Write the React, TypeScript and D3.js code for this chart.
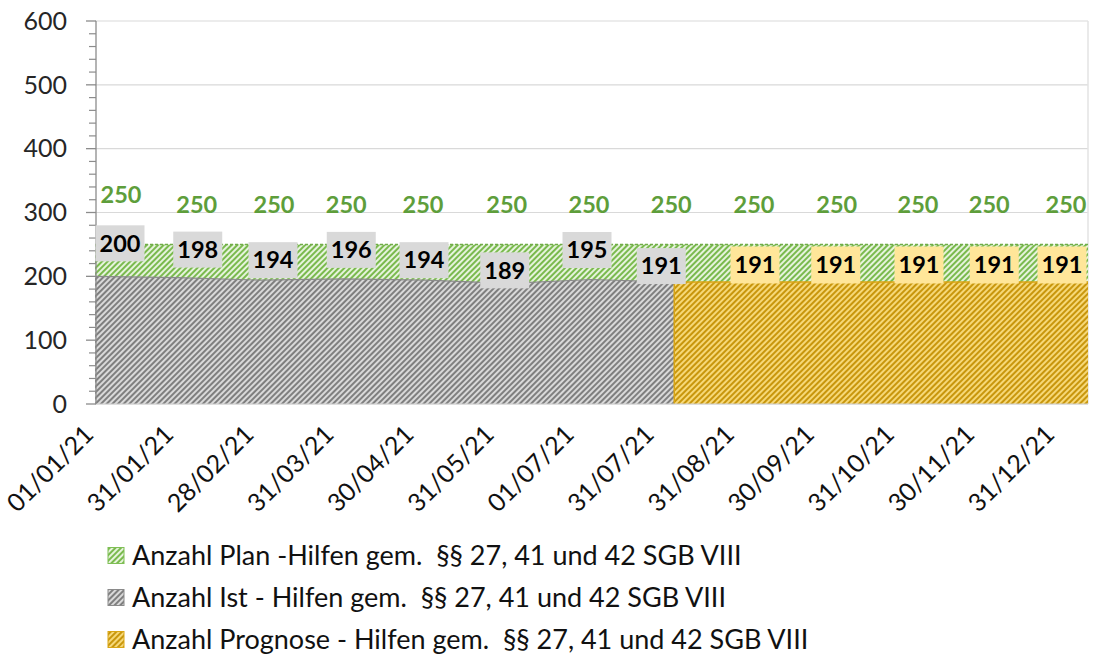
import React from "react";
import * as d3 from "d3";

// ---------- data ----------
const dates = ["01/01/21", "31/01/21", "28/02/21", "31/03/21", "30/04/21", "31/05/21", "01/07/21", "31/07/21", "31/08/21", "30/09/21", "31/10/21", "30/11/21", "31/12/21"];
const planValues = [250, 250, 250, 250, 250, 250, 250, 250, 250, 250, 250, 250, 250];
const istValues: (number | null)[] = [200, 198, 194, 196, 194, 189, 195, 191, null, null, null, null, null];
const prognoseValues: (number | null)[] = [null, null, null, null, null, null, null, 191, 191, 191, 191, 191, 191];
const yTicks = [0, 100, 200, 300, 400, 500, 600];
const legendLabels = [
  "Anzahl Plan -Hilfen gem.  §§ 27, 41 und 42 SGB VIII",
  "Anzahl Ist - Hilfen gem.  §§ 27, 41 und 42 SGB VIII",
  "Anzahl Prognose - Hilfen gem.  §§ 27, 41 und 42 SGB VIII",
];

// ---------- layout (label nudges, px) ----------
const planLabelDx = [26, 19, 13.5, 3, -3, -2, -2.5, -3, -3, -3, -4.5, -16, -22];
const planLabelDy = [-50, -40, -40, -40, -40, -40, -40, -40, -40, -40, -40, -40, -40];
const istLabelDx = [25, 20, 12.5, 8, -2, -4, -4.5, -13];
const istLabelDy = [-33, -28, -20, -29, -20, -13, -29.5, -16];
const progLabelDx = [0, 0, 0, 0, 0, 0, 0, 0, -2, -4, -3.5, -11, -26];
const progLabelDy = -17.6;

const W = 1097;
const H = 654;
const left = 95;
const right = 1088;
const top = 21;
const bottom = 404;
const FONT = "Lato, 'Open Sans', sans-serif";

export default function App() {
  const x = d3.scalePoint<string>().domain(dates).range([left, right]);
  const labelX = d3.scalePoint<string>().domain(dates).range([97, 1058]);
  const y = d3.scaleLinear().domain([0, 600]).range([bottom, top]);

  const idx = dates.map((_, i) => i);
  const planArea = d3
    .area<number>()
    .x((i) => x(dates[i])!)
    .y0(y(0))
    .y1((i) => y(planValues[i]));
  const planLine = d3
    .line<number>()
    .x((i) => x(dates[i])!)
    .y((i) => y(planValues[i]));
  const istIdx = idx.filter((i) => istValues[i] != null);
  const istArea = d3
    .area<number>()
    .x((i) => x(dates[i])!)
    .y0(y(0))
    .y1((i) => y(istValues[i] as number));
  const istLine = d3
    .line<number>()
    .x((i) => x(dates[i])!)
    .y((i) => y(istValues[i] as number));
  const progIdx = idx.filter((i) => prognoseValues[i] != null);
  const progArea = d3
    .area<number>()
    .x((i) => x(dates[i])!)
    .y0(y(0))
    .y1((i) => y(prognoseValues[i] as number));

  const minorTicks = d3.range(0, 601, 20).filter((v) => v % 100 !== 0);

  const progOutline =
    `M${x(dates[progIdx[0]])},${y(0)}` +
    progIdx.map((i) => `L${x(dates[i])},${y(prognoseValues[i] as number)}`).join("");

  const boxW = 49;
  const boxH = 36;

  return (
    <svg
      width={W}
      height={H}
      style={{ position: "absolute", left: 0, top: 0, background: "#fff" }}
      fontFamily={FONT}
    >
      <defs>
        <pattern id="pGreen" width="4" height="4" patternUnits="userSpaceOnUse" patternTransform="rotate(45)">
          <rect width="4" height="4" fill="#e6f3dc" />
          <rect width="2" height="4" fill="#7aba4e" />
        </pattern>
        <pattern id="pGray" width="4" height="4" patternUnits="userSpaceOnUse" patternTransform="rotate(45)">
          <rect width="4" height="4" fill="#d9d9d9" />
          <rect width="2" height="4" fill="#7f7f7f" />
        </pattern>
        <pattern id="pGold" width="4" height="4" patternUnits="userSpaceOnUse" patternTransform="rotate(45)">
          <rect width="4" height="4" fill="#f6d878" />
          <rect width="2" height="4" fill="#c8960c" />
        </pattern>
      </defs>

      {/* gridlines */}
      {yTicks.map((t) => (
        <line key={"g" + t} x1={left} x2={right} y1={y(t)} y2={y(t)} stroke="#d9d9d9" strokeWidth={1.2} />
      ))}
      <line x1={right} x2={right} y1={top} y2={bottom} stroke="#e3e3e3" strokeWidth={1.5} />

      {/* areas */}
      <path d={planArea(idx)!} fill="url(#pGreen)" />
      <path d={planLine(idx)!} fill="none" stroke="#70ad47" strokeWidth={1.5} strokeDasharray="3 2" />
      <path d={istArea(istIdx)!} fill="url(#pGray)" />
      <path d={istLine(istIdx)!} fill="none" stroke="#8a8a8a" strokeWidth={1.2} />
      <path d={progArea(progIdx)!} fill="url(#pGold)" />
      <path d={progOutline} fill="none" stroke="#d9a514" strokeWidth={1.5} />

      {/* axes */}
      <line x1={left} x2={right} y1={bottom} y2={bottom} stroke="#d0d0d0" strokeWidth={1.2} />
      <line x1={left + 1} x2={left + 1} y1={top} y2={bottom} stroke="#8c8c8c" strokeWidth={1.3} />
      {yTicks.map((t) => (
        <line key={"mt" + t} x1={86} x2={left + 1} y1={y(t)} y2={y(t)} stroke="#8c8c8c" strokeWidth={1.3} />
      ))}
      {minorTicks.map((t) => (
        <line key={"nt" + t} x1={89} x2={left + 1} y1={y(t)} y2={y(t)} stroke="#8c8c8c" strokeWidth={1.2} />
      ))}
      {yTicks.map((t) => (
        <text key={"yl" + t} x={67} y={y(t)} dy="0.35em" textAnchor="end" fontSize={25} fill="#262626">
          {t}
        </text>
      ))}
      {dates.map((d) => (
        <text
          key={"xl" + d}
          transform={`translate(${labelX(d)! - 2},${436}) rotate(-45)`}
          textAnchor="end"
          fontSize={25}
          fill="#111"
        >
          {d}
        </text>
      ))}

      {/* plan labels */}
      {idx.map((i) => (
        <text
          key={"pl" + i}
          x={x(dates[i])! + planLabelDx[i]}
          y={y(planValues[i]) + planLabelDy[i]}
          dy="0.35em"
          textAnchor="middle"
          fontSize={23.5}
          fontWeight="bold"
          fill="#5e9e3b"
        >
          {planValues[i]}
        </text>
      ))}

      {/* ist labels */}
      {istIdx.map((i) => {
        const cx = x(dates[i])! + istLabelDx[i];
        const cy = y(istValues[i] as number) + istLabelDy[i];
        return (
          <g key={"il" + i}>
            <rect x={cx - boxW / 2} y={cy - boxH / 2} width={boxW} height={boxH} fill="#d9d9d9" />
            <text x={cx} y={cy} dy="0.35em" textAnchor="middle" fontSize={23.5} fontWeight="bold" fill="#000">
              {istValues[i]}
            </text>
          </g>
        );
      })}

      {/* prognose labels */}
      {progIdx
        .filter((i) => istValues[i] == null)
        .map((i) => {
          const cx = x(dates[i])! + progLabelDx[i];
          const cy = y(prognoseValues[i] as number) + progLabelDy;
          return (
            <g key={"gl" + i}>
              <rect x={cx - boxW / 2} y={cy - boxH / 2} width={boxW} height={boxH + 1} fill="#ffe699" />
              <text x={cx} y={cy} dy="0.35em" textAnchor="middle" fontSize={23.5} fontWeight="bold" fill="#000">
                {prognoseValues[i]}
              </text>
            </g>
          );
        })}

      {/* legend */}
      {legendLabels.map((l, i) => {
        const ly = 555.5 + i * 42;
        const fills = ["url(#pGreen)", "url(#pGray)", "url(#pGold)"];
        const strokes = ["#7fbf55", "#8a8a8a", "#d9a514"];
        return (
          <g key={"lg" + i}>
            <rect x={108} y={ly - 8} width={16} height={16} fill={fills[i]} stroke={strokes[i]} strokeWidth={1} />
            <text x={132} y={ly} dy="0.35em" fontSize={27} fill="#111" style={{ whiteSpace: "pre" }}>
              {l}
            </text>
          </g>
        );
      })}
    </svg>
  );
}
